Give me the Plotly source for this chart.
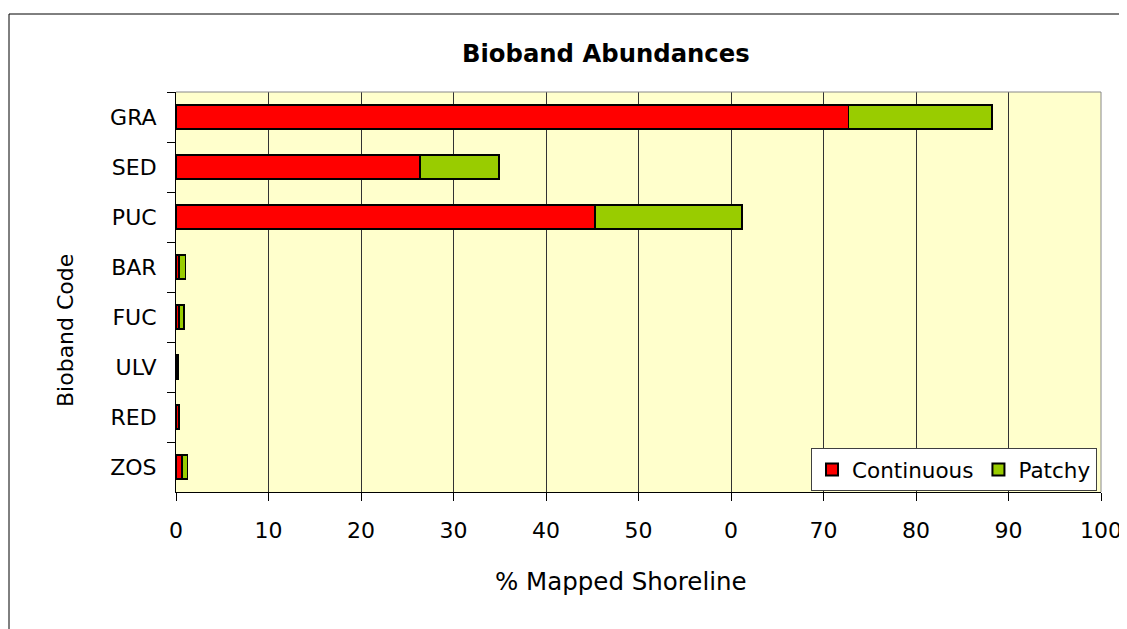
import plotly.graph_objects as go

categories = ["GRA", "SED", "PUC", "BAR", "FUC", "ULV", "RED", "ZOS"]
continuous = [72.7, 26.4, 45.3, 0.35, 0.35, 0.1, 0.3, 0.65]
patchy = [15.5, 8.5, 15.9, 0.65, 0.5, 0.15, 0.05, 0.6]
tick_vals = [0, 10, 20, 30, 40, 50, 60, 70, 80, 90, 100]
tick_text = ["0", "10", "20", "30", "40", "50", "0", "70", "80", "90", "100"]

FONT = "DejaVu Sans, sans-serif"
OFF = 8  # page body margin
W, H = 1127, 629
L, T = 176 - OFF, 92 - OFF
PW, PH = 925, 400
R, B = W - L - PW, H - T - PH

def px_x(x):
    return (x - OFF - L) / PW

def px_y(y):
    return 1 - (y - OFF - T) / PH

fig = go.Figure()
fig.add_trace(go.Bar(y=categories, x=continuous, orientation="h", name="Continuous",
                     marker=dict(color="#FF0000", line=dict(color="#000000", width=1.5))))
fig.add_trace(go.Bar(y=categories, x=patchy, orientation="h", name="Patchy",
                     marker=dict(color="#99CC00", line=dict(color="#000000", width=1.5))))

fig.update_layout(
    width=W, height=H,
    margin=dict(l=L, r=R, t=T, b=B, pad=0),
    barmode="stack", bargap=0.52,
    paper_bgcolor="white", plot_bgcolor="#FFFFCC",
    font=dict(family=FONT, size=22, color="#000000"),
    showlegend=True,
    legend=dict(orientation="h", x=px_x(1097), xanchor="right", y=px_y(491), yanchor="bottom",
                bgcolor="white", bordercolor="#404040", borderwidth=1,
                font=dict(family=FONT, size=21.5), itemsizing="constant", traceorder="normal"),
    xaxis=dict(range=[0, 100], tickmode="array", tickvals=tick_vals, ticktext=tick_text,
               showgrid=True, gridcolor="#333333", gridwidth=1,
               showline=True, linecolor="#000000", linewidth=1,
               ticks="outside", ticklen=8, tickcolor="#000000", tickwidth=1,
               ticklabelstandoff=11, zeroline=False, automargin=False,
               tickfont=dict(family=FONT, size=22)),
    yaxis=dict(autorange="reversed", showgrid=False,
               showline=True, linecolor="#000000", linewidth=1,
               ticks="outside", ticklen=8, tickcolor="#000000", tickwidth=1,
               tickson="boundaries", ticklabelstandoff=14, automargin=False,
               tickfont=dict(family=FONT, size=22)),
    annotations=[
        dict(text="<b>Bioband Abundances</b>", xref="paper", yref="paper",
             x=px_x(605.5), y=px_y(53), xanchor="center", yanchor="middle",
             showarrow=False, font=dict(family=FONT, size=24.3)),
        dict(text="% Mapped Shoreline", xref="paper", yref="paper",
             x=px_x(621), y=px_y(581), xanchor="center", yanchor="middle",
             showarrow=False, font=dict(family=FONT, size=24.5)),
        dict(text="Bioband Code", xref="paper", yref="paper", textangle=-90,
             x=px_x(65), y=px_y(331), xanchor="center", yanchor="middle",
             showarrow=False, font=dict(family=FONT, size=22)),
    ],
    shapes=[
        dict(type="line", xref="paper", yref="paper", x0=0, x1=1, y0=1, y1=1,
             line=dict(color="#888888", width=1), layer="above"),
        dict(type="line", xref="paper", yref="paper", x0=1, x1=1, y0=0, y1=1,
             line=dict(color="#888888", width=1), layer="above"),
        dict(type="line", xref="paper", yref="paper", x0=px_x(9), x1=px_x(1200),
             y0=px_y(14), y1=px_y(14), line=dict(color="#000000", width=1)),
        dict(type="line", xref="paper", yref="paper", x0=px_x(9), x1=px_x(9),
             y0=px_y(14), y1=px_y(700), line=dict(color="#000000", width=1)),
    ],
)

fig.write_html("out.html")
